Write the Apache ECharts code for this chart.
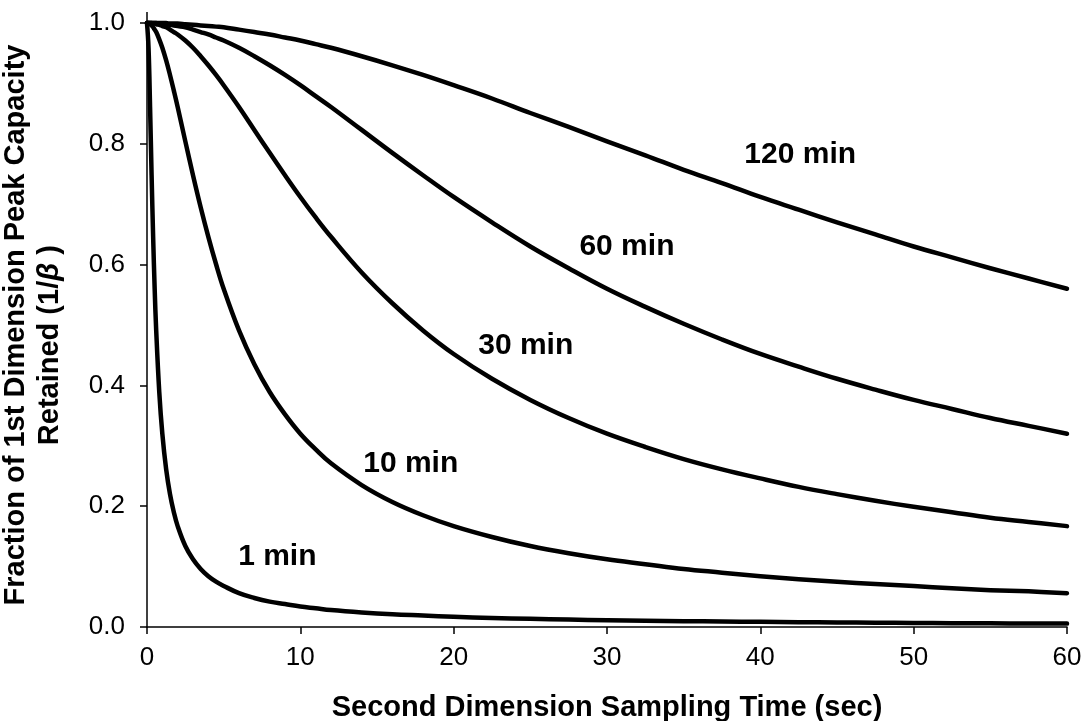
<!DOCTYPE html>
<html>
<head>
<meta charset="utf-8">
<script src="https://cdn.jsdelivr.net/npm/echarts@6/dist/echarts.min.js"></script>
<style>
html,body{margin:0;padding:0;background:#fff;}
#c{width:1088px;height:721px;}
</style>
</head>
<body>
<div id="c"></div>
<script>
// Second dimension sampling time (sec)
const samplingTime = [0, 0.1, 0.2, 0.3, 0.4, 0.5, 0.6, 0.8, 1, 1.25, 1.5, 1.75, 2, 2.5, 3, 3.5, 4, 4.5, 5, 6, 7, 8, 9, 10, 11, 12, 14, 16, 18, 20, 22.5, 25, 27.5, 30, 32.5, 35, 37.5, 40, 42.5, 45, 47.5, 50, 52.5, 55, 57.5, 60];

// Fraction of 1st dimension peak capacity retained, one array per gradient time
const retained1min = [1.000, 0.959, 0.861, 0.748, 0.646, 0.560, 0.491, 0.389, 0.320, 0.261, 0.220, 0.190, 0.167, 0.134, 0.112, 0.096, 0.084, 0.075, 0.068, 0.056, 0.048, 0.042, 0.038, 0.034, 0.031, 0.028, 0.024, 0.021, 0.019, 0.017, 0.015, 0.0135, 0.0123, 0.0113, 0.0104, 0.0097, 0.0090, 0.0085, 0.0080, 0.0075, 0.0071, 0.0068, 0.0064, 0.0061, 0.0059, 0.0056];
const retained10min = [1.000, 1.000, 0.998, 0.996, 0.993, 0.989, 0.985, 0.973, 0.959, 0.938, 0.914, 0.888, 0.861, 0.804, 0.748, 0.695, 0.646, 0.601, 0.560, 0.491, 0.435, 0.389, 0.352, 0.320, 0.294, 0.271, 0.235, 0.207, 0.185, 0.167, 0.149, 0.134, 0.122, 0.112, 0.104, 0.096, 0.090, 0.084, 0.079, 0.075, 0.071, 0.068, 0.064, 0.061, 0.059, 0.056];
const retained30min = [1.000, 1.000, 1.000, 1.000, 0.999, 0.999, 0.998, 0.997, 0.995, 0.993, 0.989, 0.985, 0.981, 0.971, 0.959, 0.945, 0.930, 0.914, 0.897, 0.861, 0.823, 0.785, 0.748, 0.712, 0.678, 0.646, 0.587, 0.536, 0.491, 0.452, 0.411, 0.376, 0.346, 0.320, 0.298, 0.278, 0.261, 0.246, 0.232, 0.220, 0.209, 0.199, 0.190, 0.181, 0.174, 0.167];
const retained60min = [1.000, 1.000, 1.000, 1.000, 1.000, 1.000, 1.000, 0.999, 0.999, 0.998, 0.997, 0.996, 0.995, 0.993, 0.989, 0.985, 0.981, 0.976, 0.971, 0.959, 0.945, 0.930, 0.914, 0.897, 0.879, 0.861, 0.823, 0.785, 0.748, 0.712, 0.670, 0.630, 0.594, 0.560, 0.530, 0.502, 0.476, 0.452, 0.431, 0.411, 0.393, 0.376, 0.361, 0.346, 0.333, 0.320];
const retained120min = [1.000, 1.000, 1.000, 1.000, 1.000, 1.000, 1.000, 1.000, 1.000, 1.000, 0.999, 0.999, 0.999, 0.998, 0.997, 0.996, 0.995, 0.994, 0.993, 0.989, 0.985, 0.981, 0.976, 0.971, 0.965, 0.959, 0.945, 0.930, 0.914, 0.897, 0.875, 0.851, 0.828, 0.804, 0.781, 0.757, 0.735, 0.712, 0.691, 0.670, 0.650, 0.630, 0.612, 0.594, 0.577, 0.560];

const seriesNames = ['1 min', '10 min', '30 min', '60 min', '120 min'];
const seriesValues = [retained1min, retained10min, retained30min, retained60min, retained120min];

// Curve label anchors (data units)
const labelTime = [8.5, 17.2, 24.7, 31.3, 42.6];
const labelFraction = [0.116, 0.271, 0.465, 0.629, 0.782];

const FONT = '"Liberation Sans", Arial, Helvetica, sans-serif';

const chart = echarts.init(document.getElementById('c'), null, {renderer: 'canvas'});

const lineSeries = seriesNames.map(function (name, i) {
  return {
    name: name,
    type: 'line',
    data: samplingTime.map(function (t, j) { return [t, seriesValues[i][j]]; }),
    showSymbol: false,
    symbol: 'none',
    smooth: 0.4,
    clip: false,
    lineStyle: {color: '#000', width: 4.5, cap: 'round', join: 'round'},
    z: 3
  };
});

const labelSeries = {
  type: 'scatter',
  silent: true,
  symbolSize: 0,
  itemStyle: {opacity: 1, color: 'rgba(0,0,0,0)'},
  data: labelTime.map(function (t, i) { return [t, labelFraction[i]]; }),
  label: {
    show: true,
    position: 'inside',
    formatter: function (p) { return seriesNames[p.dataIndex]; },
    color: '#000',
    opacity: 1,
    fontSize: 30,
    fontWeight: 'bold',
    fontFamily: FONT
  },
  z: 4
};

chart.setOption({
  animation: false,
  backgroundColor: '#fff',
  grid: {left: 147, right: 21, top: 23, bottom: 94, containLabel: false, outerBoundsMode: 'none'},
  xAxis: {
    type: 'value',
    min: 0, max: 60, interval: 10,
    name: 'Second Dimension Sampling Time (sec)',
    nameLocation: 'middle',
    nameGap: 66,
    nameTextStyle: {fontSize: 29, fontWeight: 'bold', color: '#000', fontFamily: FONT},
    axisLine: {show: true, lineStyle: {color: '#000', width: 1.5}},
    axisTick: {show: true, length: 7, inside: false, lineStyle: {color: '#000', width: 1.5}},
    axisLabel: {fontSize: 26, color: '#000', margin: 18, fontFamily: FONT},
    splitLine: {show: false}
  },
  yAxis: {
    type: 'value',
    min: 0, max: 1, interval: 0.2,
    name: 'Fraction of 1st Dimension Peak Capacity\nRetained (1/{b|β} )\u00a0\u00a0\u00a0\u00a0\u00a0',
    nameLocation: 'middle',
    nameGap: 80,
    nameRotate: 90,
    nameTextStyle: {
      fontSize: 29, fontWeight: 'bold', color: '#000', fontFamily: FONT, lineHeight: 34,
      rich: {b: {fontSize: 29, fontWeight: 'bold', fontStyle: 'italic', color: '#000', fontFamily: FONT, lineHeight: 34}}
    },
    axisLine: {show: true, lineStyle: {color: '#000', width: 1.5}},
    axisTick: {show: true, length: 7, inside: false, lineStyle: {color: '#000', width: 1.5}},
    axisLabel: {fontSize: 26, color: '#000', margin: 22, fontFamily: FONT,
      formatter: function (v) { return v.toFixed(1); }},
    splitLine: {show: false}
  },
  series: lineSeries.concat([labelSeries])
});

// small extension of the y axis line above 1.0, as in the original
const axisTopPt = chart.convertToPixel({gridIndex: 0}, [0, 1]);
chart.setOption({
  graphic: [{
    type: 'line',
    shape: {x1: axisTopPt[0], y1: axisTopPt[1] - 11, x2: axisTopPt[0], y2: axisTopPt[1]},
    style: {stroke: '#000', lineWidth: 1.5},
    silent: true
  }]
});
</script>
</body>
</html>
